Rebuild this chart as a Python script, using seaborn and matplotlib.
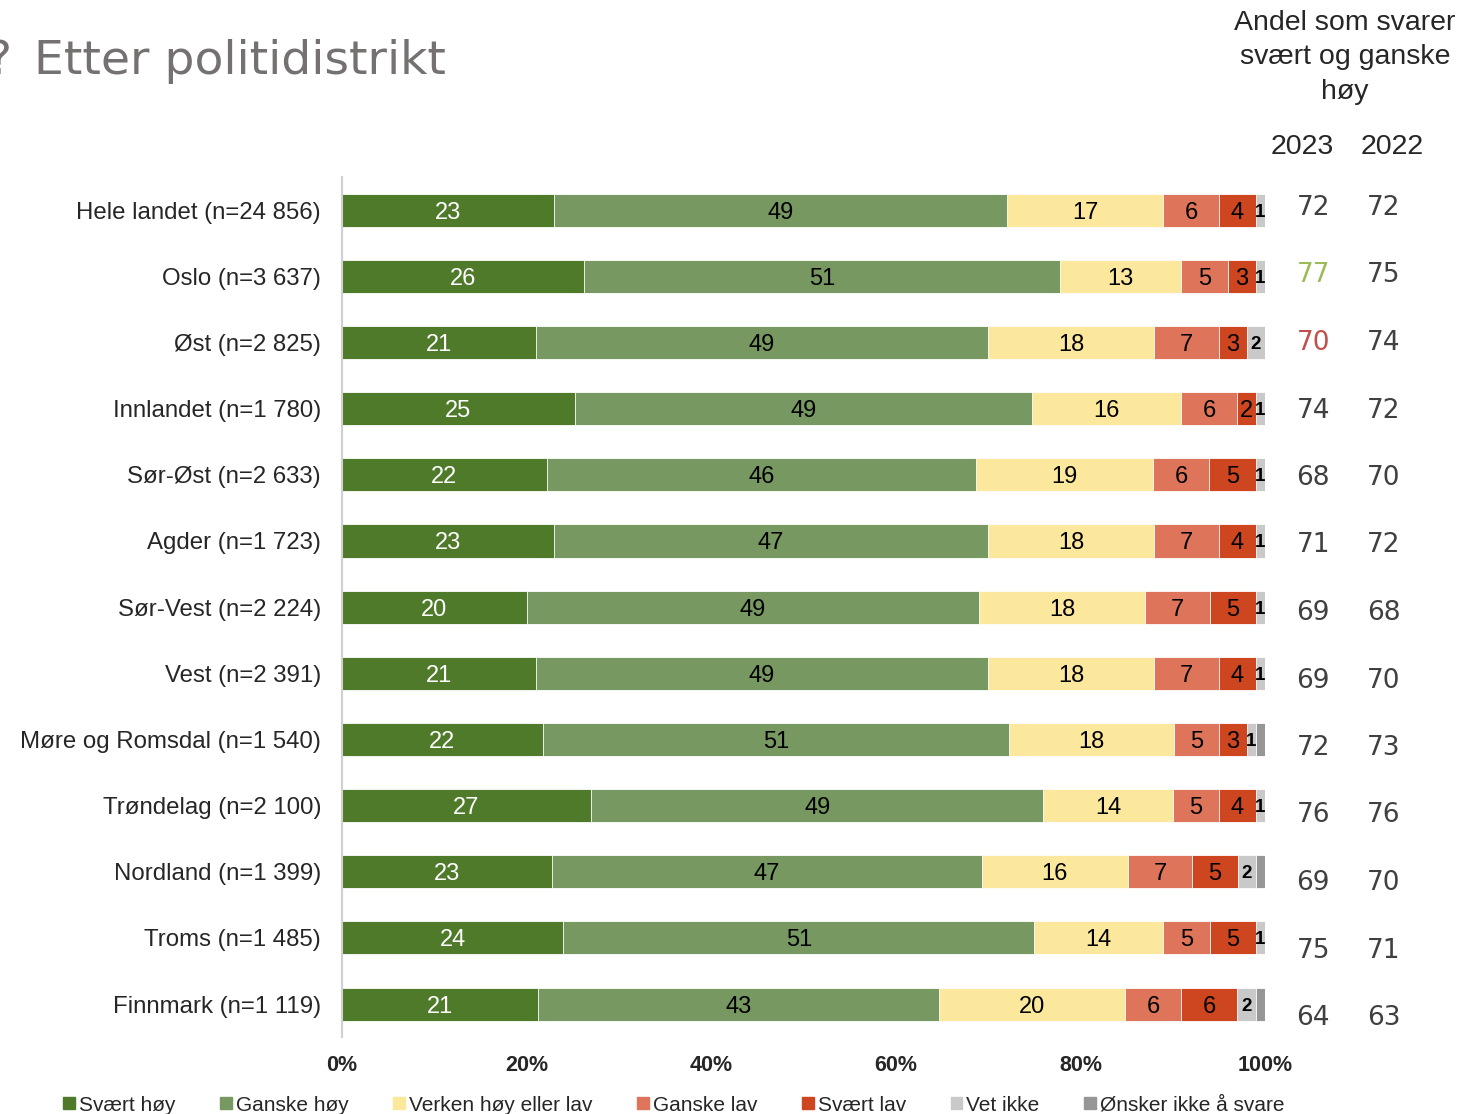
import numpy as np
import pandas as pd
import matplotlib
matplotlib.use('Agg')
import matplotlib.pyplot as plt
import seaborn as sns

# data
districts = ['Hele landet (n=24 856)', 'Oslo (n=3 637)', 'Øst (n=2 825)', 'Innlandet (n=1 780)',
             'Sør-Øst (n=2 633)', 'Agder (n=1 723)', 'Sør-Vest (n=2 224)', 'Vest (n=2 391)',
             'Møre og Romsdal (n=1 540)', 'Trøndelag (n=2 100)', 'Nordland (n=1 399)',
             'Troms (n=1 485)', 'Finnmark (n=1 119)']
categories = ['Svært høy', 'Ganske høy', 'Verken høy eller lav', 'Ganske lav', 'Svært lav',
              'Vet ikke', 'Ønsker ikke å svare']
svaert_hoy = [23, 26, 21, 25, 22, 23, 20, 21, 22, 27, 23, 24, 21]
ganske_hoy = [49, 51, 49, 49, 46, 47, 49, 49, 51, 49, 47, 51, 43]
verken = [17, 13, 18, 16, 19, 18, 18, 18, 18, 14, 16, 14, 20]
ganske_lav = [6, 5, 7, 6, 6, 7, 7, 7, 5, 5, 7, 5, 6]
svaert_lav = [4, 3, 3, 2, 5, 4, 5, 4, 3, 4, 5, 5, 6]
vet_ikke = [1, 1, 2, 1, 1, 1, 1, 1, 1, 1, 2, 1, 2]
onsker_ikke = [0, 0, 0, 0, 0, 0, 0, 0, 1, 0, 1, 0, 1]
andel_2023 = [72, 77, 70, 74, 68, 71, 69, 69, 72, 76, 69, 75, 64]
andel_2022 = [72, 75, 74, 72, 70, 72, 68, 70, 73, 76, 70, 71, 63]

colors = ['#4E7A2A', '#779860', '#FBE89C', '#DE745A', '#CD4620', '#C9C9C9', '#969696']
highlight = {1: '#9BBB59', 2: '#C0504D'}  # Oslo up, Øst down

series = [svaert_hoy, ganske_hoy, verken, ganske_lav, svaert_lav, vet_ikke, onsker_ikke]
df = pd.DataFrame(dict(zip(categories, series)), index=districts)
pct = df.div(df.sum(axis=1), axis=0) * 100
cum = pct.cumsum(axis=1)

sns.set_style('white')
plt.rcParams['font.family'] = ['Liberation Sans', 'DejaVu Sans']

fig = plt.figure(figsize=(14.65, 11.14), dpi=100)
ax = fig.add_axes([0.2334, 0.069, 0.6301, 0.772])

# stacked bars: draw cumulative totals from the last category backwards
for i in range(len(categories) - 1, -1, -1):
    plot_df = pd.DataFrame({'district': districts, 'value': cum.iloc[:, i].values})
    sns.barplot(data=plot_df, x='value', y='district', orient='h', color=colors[i],
                width=0.5, edgecolor='white', linewidth=0.6, saturation=1, ax=ax)

# segment labels
for r, d in enumerate(districts):
    left = 0
    for i, cat in enumerate(categories):
        w = pct.loc[d, cat]
        v = df.loc[d, cat]
        if v > 0 and i < 6:
            if i == 5:
                ax.text(left + w / 2, r, str(v), ha='center', va='center_baseline',
                        fontsize=13.5, fontweight='bold', color='black')
            else:
                ax.text(left + w / 2, r, str(v), ha='center', va='center_baseline',
                        fontsize=17, color='white' if i == 0 else 'black')
        left += w

ax.set_xlim(0, 100)
ax.set_ylim(12.5, -0.5)
ax.set_xticks([0, 20, 40, 60, 80, 100])
ax.set_xticklabels(['0%', '20%', '40%', '60%', '80%', '100%'], fontsize=15.5, fontweight='bold')
ax.tick_params(axis='y', labelsize=17.3, length=0, pad=15)
ax.tick_params(axis='x', length=0, pad=13)
ax.set_xlabel('')
ax.set_ylabel('')
for s in ['top', 'right', 'bottom']:
    ax.spines[s].set_visible(False)
ax.spines['left'].set_color('#D0D0D0')
ax.spines['left'].set_linewidth(1.5)

# legend
handles = [plt.Rectangle((0, 0), 1, 1, color=c) for c in colors]
fig.legend(handles, categories, loc='center', bbox_to_anchor=(0.460, 0.008), ncol=7,
           frameon=False, fontsize=15, handlelength=0.55, handleheight=0.55,
           handletextpad=0.2, columnspacing=2.15)

# title (the question mark is cut off at the left edge, as in the original slide)
fig.text(-0.009, 0.945, '?', fontsize=34, color='#767171',
         family=['DejaVu Sans'], va='center', ha='left')
fig.text(0.023, 0.945, 'Etter politidistrikt', fontsize=34, color='#767171',
         family=['DejaVu Sans'], va='center', ha='left')

# right-hand table
fig.text(0.918, 0.991, 'Andel som svarer\nsvært og ganske\nhøy', ha='center', va='top',
         fontsize=20.5, linespacing=1.42)
fig.text(0.889, 0.868, '2023', ha='center', va='center', fontsize=20.5)
fig.text(0.950, 0.868, '2022', ha='center', va='center', fontsize=20.5)
for r in range(len(districts)):
    y = 1 - (208 + r * 67.5) / 1114
    fig.text(0.8965, y, str(andel_2023[r]), ha='center', va='center', fontsize=19,
             color=highlight.get(r, '#404040'), family=['DejaVu Sans'])
    fig.text(0.9447, y, str(andel_2022[r]), ha='center', va='center', fontsize=19,
             color='#404040', family=['DejaVu Sans'])

fig.savefig('out.png', dpi=100)
